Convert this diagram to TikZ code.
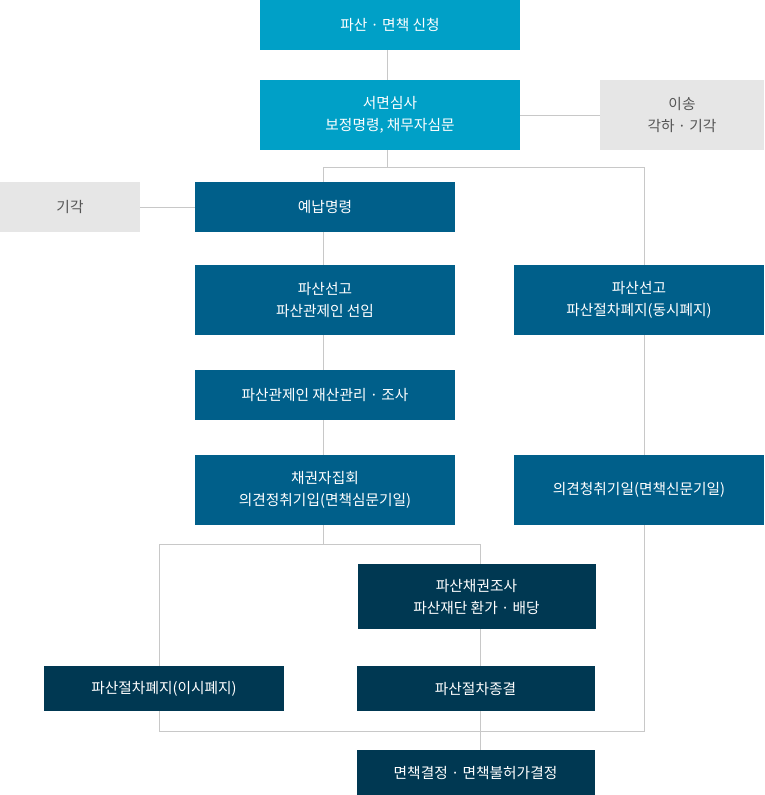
\documentclass[tikz,border=0pt]{standalone}
\usepackage{fontspec}
\setmainfont{Noto Sans CJK KR}
\usetikzlibrary{backgrounds}
\definecolor{cLight}{RGB}{0,160,199}
\definecolor{cMid}{RGB}{0,95,138}
\definecolor{cDark}{RGB}{0,56,82}
\definecolor{cGray}{RGB}{230,230,230}
\definecolor{cGrayText}{RGB}{85,85,85}
\definecolor{cLine}{RGB}{200,200,200}
\tikzset{
  box/.style={inner sep=0pt, outer sep=0pt, align=center, text=white,
    font=\fontsize{14.7}{22}\selectfont},
  lightbox/.style={box, fill=cLight},
  midbox/.style={box, fill=cMid},
  darkbox/.style={box, fill=cDark},
  graybox/.style={box, fill=cGray, text=cGrayText},
  conn/.style={draw=cLine, line width=1pt}
}
\begin{document}
\begin{tikzpicture}[x=1pt,y=-1pt]
\useasboundingbox (0,0) rectangle (764,795);
% nodes
\node[lightbox, minimum width=260, minimum height=50] (n1) at (390,25) {파산 · 면책 신청};
\node[lightbox, minimum width=260, minimum height=70] (n2) at (390,115) {서면심사\\보정명령, 채무자심문};
\node[graybox, minimum width=164, minimum height=70] (g1) at (682,115) {이송\\각하 · 기각};
\node[midbox, minimum width=260, minimum height=50] (n3) at (325,207) {예납명령};
\node[graybox, minimum width=140, minimum height=50] (g2) at (70,207) {기각};
\node[midbox, minimum width=260, minimum height=70] (n4) at (325,300) {파산선고\\파산관제인 선임};
\node[midbox, minimum width=250, minimum height=70] (r1) at (639,300) {파산선고\\파산절차폐지(동시폐지)};
\node[midbox, minimum width=260, minimum height=50] (n5) at (325,395) {파산관제인 재산관리 · 조사};
\node[midbox, minimum width=260, minimum height=70] (n6) at (325,490) {채권자집회\\의견정취기입(면책심문기일)};
\node[midbox, minimum width=250, minimum height=70] (r2) at (639,490) {의견청취기일(면책신문기일)};
\node[darkbox, minimum width=238, minimum height=65] (n7) at (476.5,596.5) {파산채권조사\\파산재단 환가 · 배당};
\node[darkbox, minimum width=240, minimum height=45] (n8) at (164,688.5) {파산절차폐지(이시폐지)};
\node[darkbox, minimum width=238, minimum height=45] (n9) at (475.5,688.5) {파산절차종결};
\node[darkbox, minimum width=238, minimum height=45] (n10) at (475.5,772.5) {면책결정 · 면책불허가결정};
% junction coordinates
\coordinate (cT) at (387,167);
\coordinate (cL) at (323,167);
\coordinate (cR) at (644,167);
\coordinate (mL) at (159.5,544);
\coordinate (mR) at (480.5,544);
\coordinate (bL) at (159.5,731);
\coordinate (bR) at (644,731);
\begin{scope}[on background layer]
\draw[conn] (n1.south -| cT) -- (n2.north -| cT);
\draw[conn] (n2.south -| cT) -- (cT);
\draw[conn] (n2.east |- g1.west) -- (g1.west);
\draw[conn] (g2.east) -- (n3.west);
\draw[conn] (cL) -- (cR);
\draw[conn] (cL) -- (cL |- mL);
\draw[conn] (mL) -- (mR) -- (mR |- n10.north);
\draw[conn] (mL) -- (bL) -- (bR) -- (cR);
\end{scope}
\end{tikzpicture}
\end{document}
